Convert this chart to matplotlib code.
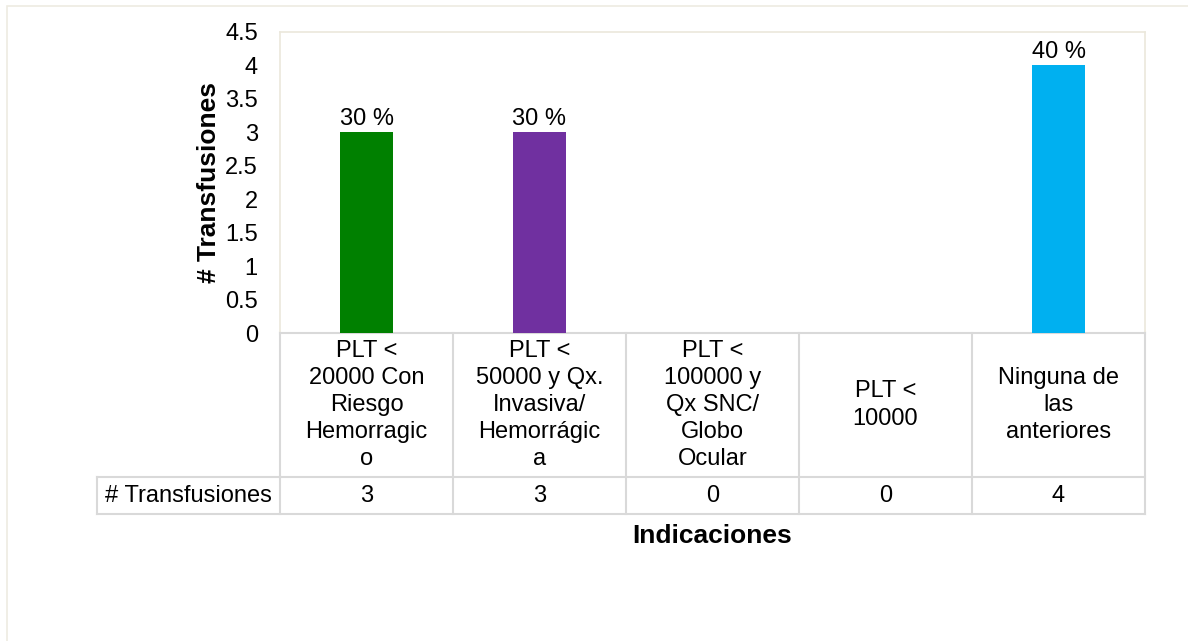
import matplotlib.pyplot as plt
from matplotlib.patches import Rectangle

plt.rcParams['font.family'] = ['Liberation Sans', 'DejaVu Sans']

categorias = [
    "PLT <\n20000 Con\nRiesgo\nHemorragic\no",
    "PLT <\n50000 y Qx.\nInvasiva/\nHemorrágic\na",
    "PLT <\n100000 y\nQx SNC/\nGlobo\nOcular",
    "PLT <\n10000",
    "Ninguna de\nlas\nanteriores",
]
transfusiones = [3, 3, 0, 0, 4]
etiquetas = ["30 %", "30 %", "", "", "40 %"]
colores = ["#008000", "#7030a0", "#7f7f7f", "#7f7f7f", "#00b0f0"]
yticks = [0, 0.5, 1, 1.5, 2, 2.5, 3, 3.5, 4, 4.5]
ytick_labels = ["0", "0.5", "1", "1.5", "2", "2.5", "3", "3.5", "4", "4.5"]

FS = 17
W, H = 1188, 641
fig = plt.figure(figsize=(W / 100, H / 100), dpi=100)

# marco exterior del gráfico
fig.patches.append(Rectangle((7 / W, -0.1), 1.2, (H - 6) / H + 0.1, transform=fig.transFigure,
                             fill=False, edgecolor="#eeebe2", linewidth=1.2))

x0, x1, ytop, ybase = 280, 1145, 32, 333
ax = fig.add_axes([x0 / W, (H - ybase) / H, (x1 - x0) / W, (ybase - ytop) / H])
n = len(categorias)
xs = list(range(n))
ax.bar(xs, transfusiones, width=0.31, color=colores, zorder=3)
for x, v, t in zip(xs, transfusiones, etiquetas):
    if t:
        ax.text(x, v + 0.03, t, ha="center", va="bottom", fontsize=FS)

ax.set_xlim(-0.5, n - 0.5)
ax.set_ylim(0, 4.5)
ax.set_yticks(yticks)
ax.set_yticklabels(ytick_labels, fontsize=FS)
ax.set_xticks([])
ax.tick_params(axis="y", length=0, pad=16)
for s in ["left", "right", "top"]:
    ax.spines[s].set_color("#ebe8dc")
    ax.spines[s].set_linewidth(1.2)
ax.spines["bottom"].set_color("#d9d9d9")
ax.spines["bottom"].set_linewidth(1.5)
ax.set_ylabel("# Transfusiones", fontsize=19, fontweight="bold", labelpad=3)

# tabla de datos
tb0, tb1 = 333, 514
ymid = 477
col_w = (x1 - x0) / n
left_x = 97
tab = fig.add_axes([left_x / W, (H - tb1) / H, (x1 - left_x) / W, (tb1 - tb0) / H])
tab.set_xlim(-0.5 - (x0 - left_x) / col_w, n - 0.5)
tab.set_ylim(tb1 - tb0, 0)
tab.axis("off")
lc = "#d9d9d9"
lw = 1.5
hm = ymid - tb0
xl = tab.get_xlim()[0]
tab.plot([-0.5, n - 0.5], [hm, hm], color=lc, lw=lw, clip_on=False)
tab.plot([xl, n - 0.5], [tb1 - tb0, tb1 - tb0], color=lc, lw=lw, clip_on=False)
tab.plot([xl, -0.5], [hm, hm], color=lc, lw=lw, clip_on=False)
tab.plot([xl, xl], [hm, tb1 - tb0], color=lc, lw=lw, clip_on=False)
for k in range(n + 1):
    tab.plot([k - 0.5, k - 0.5], [0, tb1 - tb0], color=lc, lw=lw, clip_on=False)
for x, c, v in zip(xs, categorias, transfusiones):
    tab.text(x, hm / 2, c, ha="center", va="center", fontsize=FS, linespacing=1.3)
    tab.text(x, (hm + tb1 - tb0) / 2, str(v), ha="center", va="center", fontsize=FS)
tab.text((xl - 0.5) / 2, (hm + tb1 - tb0) / 2, "# Transfusiones",
         ha="center", va="center", fontsize=FS)

fig.text((x0 + x1) / 2 / W, 1 - 536 / H, "Indicaciones", ha="center", va="center",
         fontsize=19, fontweight="bold")

fig.savefig("out.png", dpi=100)
